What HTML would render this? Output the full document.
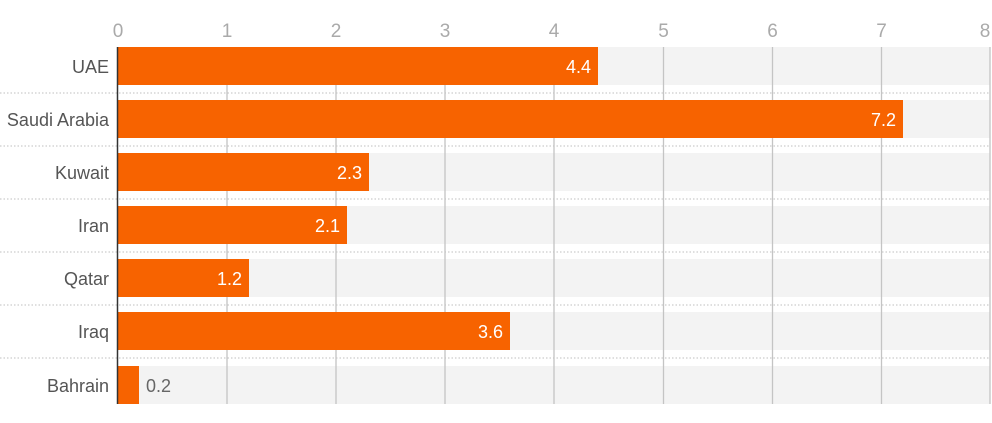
<!DOCTYPE html>
<html><head><style>
body{margin:0;width:992px;height:418px;background:#fff;overflow:hidden;font-family:"Liberation Sans",sans-serif;}
</style></head><body>
<svg width="992" height="418" xmlns="http://www.w3.org/2000/svg" font-family="Liberation Sans, sans-serif">
<g id="bands" fill="#f3f3f3">
<rect x="118" y="47" width="872" height="38"/>
<rect x="118" y="100" width="872" height="38"/>
<rect x="118" y="153" width="872" height="38"/>
<rect x="118" y="206" width="872" height="38"/>
<rect x="118" y="259" width="872" height="38"/>
<rect x="118" y="312" width="872" height="38"/>
<rect x="118" y="366" width="872" height="38"/>
</g>
<g stroke="#ccc" stroke-width="1.2" stroke-dasharray="1.5,2">
<line x1="0" x2="990" y1="93" y2="93"/><line x1="0" x2="990" y1="146" y2="146"/>
<line x1="0" x2="990" y1="199" y2="199"/><line x1="0" x2="990" y1="252" y2="252"/>
<line x1="0" x2="990" y1="305" y2="305"/><line x1="0" x2="990" y1="358" y2="358"/>
</g>
<g stroke="#c4c4c4" stroke-width="1.3">
<line x1="227" x2="227" y1="47" y2="404"/><line x1="336" x2="336" y1="47" y2="404"/>
<line x1="445" x2="445" y1="47" y2="404"/><line x1="554" x2="554" y1="47" y2="404"/>
<line x1="663.5" x2="663.5" y1="47" y2="404"/><line x1="772.5" x2="772.5" y1="47" y2="404"/>
<line x1="881.5" x2="881.5" y1="47" y2="404"/><line x1="990" x2="990" y1="47" y2="404"/>
</g>
<g fill="#aaa" font-size="19" text-anchor="middle">
<text x="118" y="37">0</text><text x="227" y="37">1</text><text x="336" y="37">2</text><text x="445" y="37">3</text>
<text x="554" y="37">4</text><text x="663.5" y="37">5</text><text x="772.5" y="37">6</text><text x="881.5" y="37">7</text><text x="985" y="37">8</text>
</g>
<g fill="#f76300">
<rect x="118" y="47" width="480" height="38"/>
<rect x="118" y="100" width="785" height="38"/>
<rect x="118" y="153" width="251" height="38"/>
<rect x="118" y="206" width="229" height="38"/>
<rect x="118" y="259" width="131" height="38"/>
<rect x="118" y="312" width="392" height="38"/>
<rect x="118" y="366" width="21" height="38"/>
</g>
<line x1="117.5" x2="117.5" y1="47" y2="404" stroke="#333" stroke-width="1.5"/>
<g fill="#fff" font-size="18" text-anchor="end">
<text x="591" y="73">4.4</text><text x="896" y="126">7.2</text><text x="362" y="179">2.3</text>
<text x="340" y="232">2.1</text><text x="242" y="285">1.2</text><text x="503" y="338">3.6</text>
</g>
<text x="146" y="392" fill="#666" font-size="18">0.2</text>
<g fill="#555" font-size="18" text-anchor="end">
<text x="109" y="73">UAE</text><text x="109" y="126">Saudi Arabia</text><text x="109" y="179">Kuwait</text>
<text x="109" y="232">Iran</text><text x="109" y="285">Qatar</text><text x="109" y="338">Iraq</text><text x="109" y="392">Bahrain</text>
</g>
</svg>
</body></html>
